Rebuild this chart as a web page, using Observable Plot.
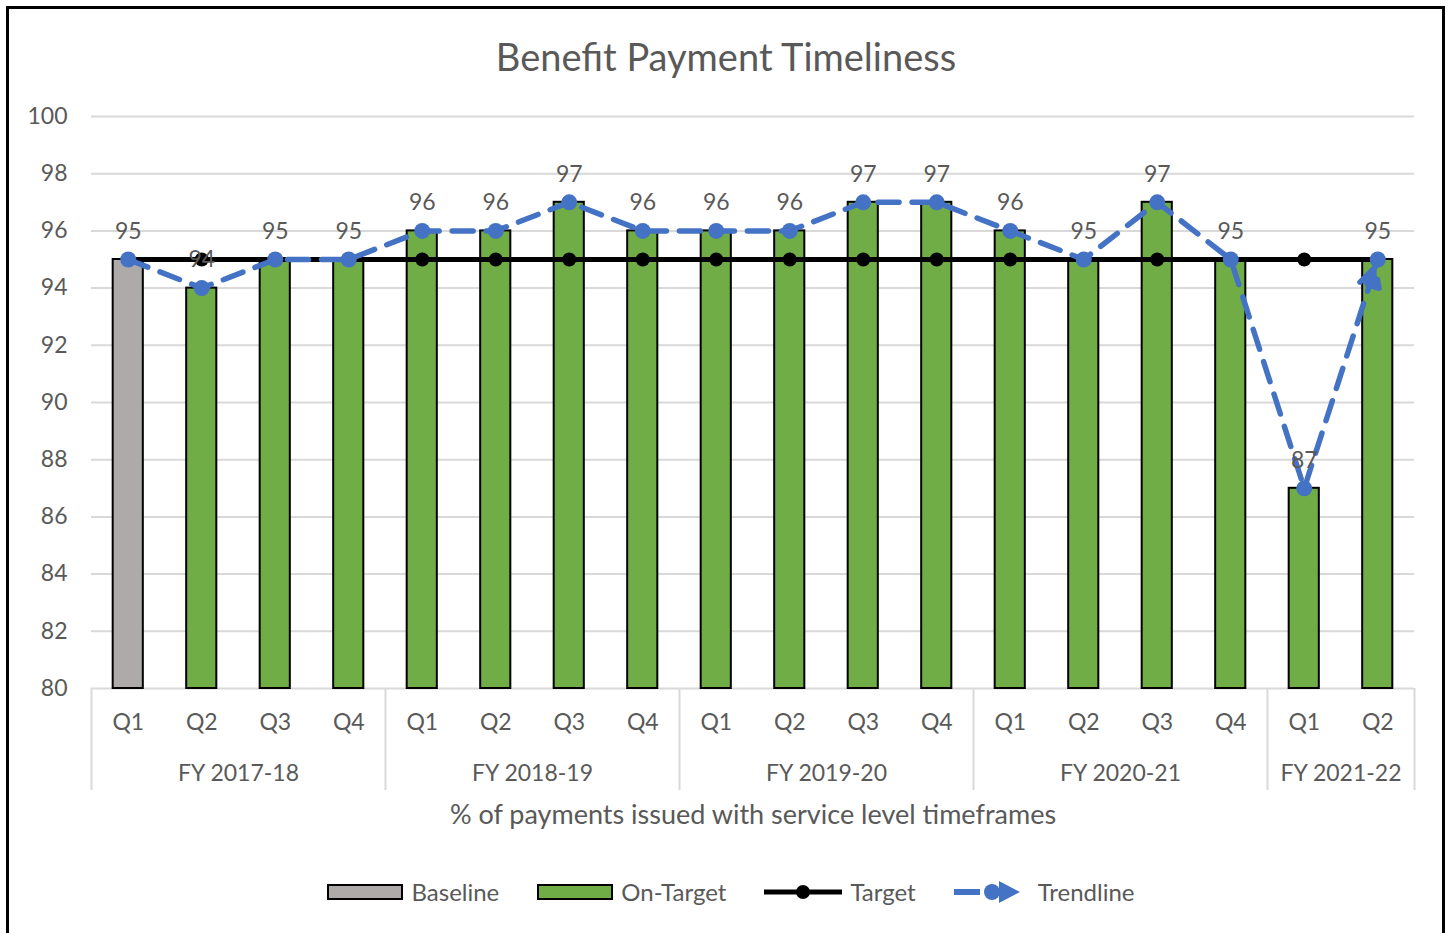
<!DOCTYPE html>
<html>
<head>
<meta charset="utf-8">
<script src="https://cdn.jsdelivr.net/npm/d3@7"></script>
<script src="https://cdn.jsdelivr.net/npm/@observablehq/plot@0.6"></script>
<style>
  html, body { margin: 0; padding: 0; background: #fff; }
  body { width: 1450px; height: 933px; overflow: hidden; position: relative; font-family: Lato, "Open Sans", sans-serif; color: #595959; }
  #frame { position: absolute; left: 6px; top: 6px; width: 1433px; height: 1000px; border: 3px solid #000; }
  #chart { position: absolute; left: 0; top: 0; }
  #title { position: absolute; left: 0; top: 33px; width: 1452px; text-align: center; font-size: 38px; line-height: 46px; color: #595959; }
  #legend { position: absolute; left: 0; top: 876px; width: 1462px; display: flex; justify-content: center; align-items: center; gap: 38px; font-size: 24px; line-height: 32px; color: #595959; }
  .item { display: flex; align-items: center; gap: 8px; }
  .item svg { display: block; }
</style>
</head>
<body>
<div id="frame"></div>
<div id="chart"></div>
<div id="title"></div>
<div id="legend"></div>
<script>
// ---- data ----
const chartTitle = "Benefit Payment Timeliness";
const axisTitle = "% of payments issued with service level timeframes";
const quarters = ["Q1","Q2","Q3","Q4","Q1","Q2","Q3","Q4","Q1","Q2","Q3","Q4","Q1","Q2","Q3","Q4","Q1","Q2"];
const fiscalYears = ["FY 2017-18","FY 2017-18","FY 2017-18","FY 2017-18",
                     "FY 2018-19","FY 2018-19","FY 2018-19","FY 2018-19",
                     "FY 2019-20","FY 2019-20","FY 2019-20","FY 2019-20",
                     "FY 2020-21","FY 2020-21","FY 2020-21","FY 2020-21",
                     "FY 2021-22","FY 2021-22"];
const actual = [95,94,95,95,96,96,97,96,96,96,97,97,96,95,97,95,87,95];
const target = [95,95,95,95,95,95,95,95,95,95,95,95,95,95,95,95,95,95];
const barSeries = ["Baseline","On-Target","On-Target","On-Target","On-Target","On-Target","On-Target","On-Target","On-Target",
                   "On-Target","On-Target","On-Target","On-Target","On-Target","On-Target","On-Target","On-Target","On-Target"];
const seriesNames = ["Baseline","On-Target","Target","Trendline"];
const yTicks = [80,82,84,86,88,90,92,94,96,98,100];

// ---- styles ----
const GREEN = "#70AD47", GRAY = "#AEAAAA", BLUE = "#4472C4", TEXT = "#595959", GRID = "#D9D9D9";

// ---- table ----
const rows = quarters.map((q, i) => ({
  key: fiscalYears[i] + " " + q, quarter: q, fy: fiscalYears[i],
  actual: actual[i], target: target[i], series: barSeries[i]
}));
const keys = rows.map(d => d.key);
const groups = Array.from(new Set(fiscalYears));
const groupStarts = groups.map(g => rows.find(r => r.fy === g).key);
const groupMid = groups.map(g => {
  const members = rows.filter(r => r.fy === g);
  return {fy: g, key: members[members.length / 2 - 1].key};
});

const W = 1450, H = 840, MT = 116, MB = 152, ML = 91, MR = 36;
const step = (W - ML - MR) / keys.length;
const plotH = H - MT - MB;

function arrowHead(color, context) {
  const doc = (context && context.document) || document;
  const ns = "http://www.w3.org/2000/svg";
  const m = doc.createElementNS(ns, "marker");
  m.setAttribute("viewBox", "-40 -20 60 40");
  m.setAttribute("markerWidth", 60);
  m.setAttribute("markerHeight", 40);
  m.setAttribute("markerUnits", "userSpaceOnUse");
  m.setAttribute("orient", "auto");
  m.setAttribute("overflow", "visible");
  const p = doc.createElementNS(ns, "path");
  p.setAttribute("d", "M-27,-10L-8,0L-27,10Z");
  p.setAttribute("fill", color);
  m.appendChild(p);
  return m;
}

const chart = Plot.plot({
  width: W, height: H, marginTop: MT, marginBottom: MB, marginLeft: ML, marginRight: MR,
  style: {fontFamily: "Lato, 'Open Sans', sans-serif", fontSize: "23px", color: TEXT, background: "transparent", overflow: "visible"},
  x: {type: "band", domain: keys, paddingInner: 0.59, paddingOuter: 0.295, round: false, axis: null},
  y: {domain: [80, 100], axis: null},
  color: {domain: ["Baseline", "On-Target"], range: [GRAY, GREEN]},
  marks: [
    Plot.ruleY(yTicks, {stroke: GRID, strokeWidth: 2}),
    Plot.text(yTicks, {y: d => d, text: d => String(d), frameAnchor: "left", textAnchor: "end", dx: -24, fill: TEXT, fontSize: 23}),
    Plot.barY(rows, {x: "key", y1: yTicks[0], y2: "actual", fill: "series", stroke: "#000", strokeWidth: 2}),
    Plot.lineY(rows, {x: "key", y: "target", stroke: "#000", strokeWidth: 5}),
    Plot.dot(rows, {x: "key", y: "target", r: 7, fill: "#000"}),
    Plot.lineY(rows, {x: "key", y: "actual", stroke: BLUE, strokeWidth: 5.5, strokeDasharray: "21,13", markerEnd: arrowHead}),
    Plot.dot(rows, {x: "key", y: "actual", r: 8, fill: BLUE}),
    Plot.text(rows, {x: "key", y: "actual", text: d => String(d.actual), dy: -28, fill: TEXT, fontSize: 23}),
    // category axis
    Plot.text(rows, {x: "key", text: "quarter", frameAnchor: "bottom", dy: 34, lineAnchor: "middle", fill: TEXT, fontSize: 23}),
    Plot.text(groupMid, {x: "key", text: "fy", frameAnchor: "bottom", dy: 85, dx: step / 2, lineAnchor: "middle", fill: TEXT, fontSize: 23}),
    Plot.tickX(groupStarts, {x: d => d, stroke: GRID, strokeWidth: 2, dx: -step / 2, insetTop: plotH, insetBottom: -102}),
    Plot.tickX([keys[keys.length - 1]], {x: d => d, stroke: GRID, strokeWidth: 2, dx: step / 2, insetTop: plotH, insetBottom: -102}),
    Plot.text([axisTitle], {text: d => d, frameAnchor: "bottom", dy: 127, lineAnchor: "middle", fill: TEXT, fontSize: 27})
  ]
});
document.getElementById("chart").appendChild(chart);
document.getElementById("title").textContent = chartTitle;

// ---- legend ----
const swatches = {
  "Baseline": `<svg width="76" height="16"><rect x="1" y="1" width="74" height="14" fill="${GRAY}" stroke="#000" stroke-width="2"/></svg>`,
  "On-Target": `<svg width="76" height="16"><rect x="1" y="1" width="74" height="14" fill="${GREEN}" stroke="#000" stroke-width="2"/></svg>`,
  "Target": `<svg width="78" height="20"><line x1="0" y1="10" x2="78" y2="10" stroke="#000" stroke-width="5"/><circle cx="39" cy="10" r="7" fill="#000"/></svg>`,
  "Trendline": `<svg width="76" height="24"><line x1="0" y1="12" x2="26" y2="12" stroke="${BLUE}" stroke-width="6"/><circle cx="38" cy="12" r="8" fill="${BLUE}"/><path d="M45,1L66,12L45,23Z" fill="${BLUE}"/></svg>`
};
const legend = document.getElementById("legend");
seriesNames.forEach(name => {
  const el = document.createElement("div");
  el.className = "item";
  el.innerHTML = swatches[name] + `<span>${name}</span>`;
  legend.appendChild(el);
});
</script>
</body>
</html>
